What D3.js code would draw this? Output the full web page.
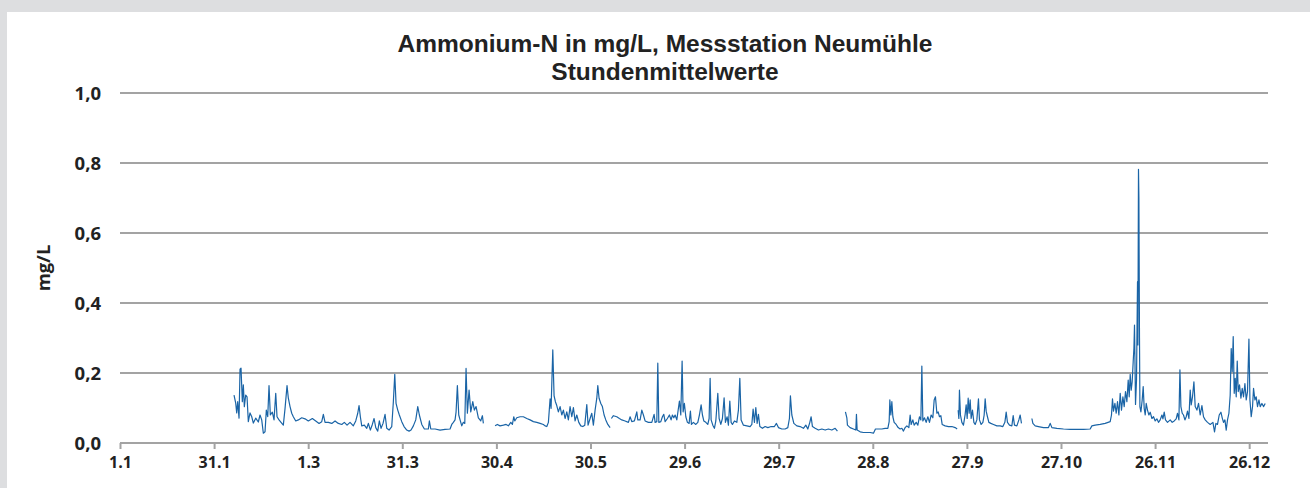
<!DOCTYPE html>
<html>
<head>
<meta charset="utf-8">
<script src="https://cdn.jsdelivr.net/npm/d3@7"></script>
<style>
  html, body { margin: 0; padding: 0; background: #dddee0; }
  svg { display: block; }
</style>
</head>
<body>
<svg id="chart" width="1310" height="488"></svg>
<script>
// Ammonium-N, hourly means at Neumühle station (day of year in a leap year, mg/L).
// null marks a gap in the measurement record.
const dayOfYear = [
  36.35,36.89,37.21,37.53,37.95,38.27,38.58,39.00,39.32,39.64,40.08,40.50,40.91,41.45,42.00,42.51,43.27,44.10,44.64,45.18,
  45.70,46.24,46.65,47.10,47.51,47.93,48.56,49.11,49.65,50.06,50.70,51.34,52.07,52.62,53.25,53.67,54.21,54.75,55.26,56.03,
  56.86,57.94,58.99,60.04,61.32,62.40,63.46,64.32,64.83,65.37,66.42,67.51,68.56,69.61,70.70,71.52,72.39,73.34,74.39,75.16,
  75.80,76.21,76.63,77.07,77.90,78.67,79.18,79.82,80.45,81.00,81.54,82.17,82.68,83.23,83.86,84.50,85.04,85.78,86.64,87.15,
  87.60,88.01,88.55,89.06,89.83,90.56,91.42,92.16,92.79,93.53,94.29,94.93,95.44,96.21,97.04,97.26,98.31,98.63,99.08,100.45,
  102.04,103.64,105.23,105.77,106.28,106.82,107.14,107.56,108.00,108.42,108.96,109.47,109.92,110.33,110.75,111.29,111.83,112.47,112.98,113.52,
  114.25,115.02,115.53,115.85,
  117.7,
  119.58,120.31,121.17,122.23,123.09,123.82,124.59,125.10,125.54,125.86,126.50,127.55,128.60,129.69,130.74,131.79,132.88,133.93,134.98,135.52,
  136.07,136.58,137.12,137.44,137.98,138.39,138.81,139.25,139.76,140.31,140.85,141.36,141.90,142.44,142.95,143.49,144.04,144.55,145.09,145.63,
  146.27,146.91,147.55,148.18,148.82,149.23,149.87,150.41,150.92,151.47,152.01,152.33,152.74,153.29,153.79,154.34,154.88,155.52,156.25,
  156.45,
  156.66,157.30,158.38,159.22,159.98,161.03,162.09,162.63,163.17,164.00,164.76,165.08,165.82,166.36,166.87,167.41,168.46,169.55,170.28,170.60,
  171.14,171.46,171.78,172.42,172.93,173.37,173.79,174.52,175.16,175.70,176.12,176.56,176.98,177.52,178.35,178.79,179.21,179.53,179.94,180.39,
  180.90,181.44,181.86,182.18,182.81,183.58,184.22,184.73,185.27,185.69,186.13,186.77,187.40,187.82,188.14,188.46,189.00,189.51,189.96,190.59,
  191.01,191.55,192.06,192.60,193.02,193.56,193.97,194.42,194.83,195.25,195.89,196.65,197.16,197.61,198.02,198.76,199.84,200.89,201.44,201.85,
  202.26,202.71,203.13,203.54,203.99,204.82,205.68,206.54,207.59,208.64,209.28,209.92,211.00,212.05,212.91,213.42,213.74,214.19,214.83,215.78,
  216.84,217.89,218.65,219.29,219.93,220.34,220.76,221.62,222.67,223.76,224.81,225.86,226.95,228.00,228.73,
  230.0,
  231.28,231.73,231.92,232.78,233.83,234.60,234.79,235.01,235.97,237.02,238.10,239.16,240.21,240.85,241.80,242.89,243.94,244.80,245.22,245.44,
  245.76,246.08,246.40,246.81,247.45,248.09,248.72,249.27,249.78,250.32,250.86,251.50,251.91,252.23,252.77,253.19,253.83,254.37,254.88,255.33,
  255.64,255.96,256.47,257.02,257.56,258.07,258.61,259.15,259.57,259.98,260.43,260.84,261.26,261.70,262.12,263.07,264.13,265.21,266.26,266.90,
  267.06,
  267.22,267.44,267.63,267.95,268.40,268.91,269.45,269.77,270.09,270.41,270.73,271.05,271.36,271.78,272.23,272.64,273.18,273.69,274.01,274.55,
  275.10,275.51,275.83,276.15,276.56,277.01,277.65,278.48,279.56,280.61,281.47,282.11,282.53,282.94,283.58,284.34,284.76,285.17,285.94,286.57,
  286.99,287.40,
  289.0,
  290.72,291.04,291.77,292.82,294.42,296.01,296.56,297.10,298.69,300.80,302.93,305.07,307.18,309.31,309.85,310.91,312.50,314.09,315.69,316.10,
  316.42,316.74,317.19,317.60,318.02,318.46,318.88,319.29,319.74,320.15,320.57,321.01,321.43,321.75,322.07,322.39,322.70,323.02,323.25,323.44,
  323.76,324.08,324.40,324.52,324.71,324.84,325.03,325.16,325.48,325.89,326.21,326.53,326.85,327.17,327.58,328.03,328.44,328.99,329.50,330.04,
  330.58,331.09,331.63,332.18,332.50,332.91,333.32,333.96,334.82,335.46,336.10,336.73,337.15,337.60,337.92,338.23,338.65,339.06,339.51,339.92,
  340.34,340.78,341.20,341.52,341.93,342.38,342.79,343.34,343.85,344.39,344.93,345.44,345.98,346.72,347.58,348.44,348.95,349.39,349.90,350.45,
  350.99,351.40,351.82,352.26,352.68,353.09,353.54,353.95,354.27,354.59,354.91,355.23,355.55,355.87,356.19,356.51,356.92,357.37,357.78,358.20,
  358.64,359.06,359.47,359.92,360.24,360.65,361.07,361.39,361.83,362.24,362.66,363.11,363.52,364.06,364.57,365.11
];

const ammoniumN = [
  0.137,0.114,0.086,0.118,0.071,0.211,0.214,0.118,0.166,0.104,0.137,0.132,0.061,0.086,0.075,0.057,0.071,0.060,0.080,0.066,
  0.028,0.032,0.094,0.075,0.164,0.080,0.088,0.066,0.142,0.075,0.066,0.059,0.051,0.099,0.164,0.128,0.104,0.085,0.075,0.063,
  0.066,0.072,0.069,0.063,0.070,0.063,0.056,0.061,0.082,0.059,0.059,0.056,0.063,0.056,0.053,0.059,0.051,0.059,0.049,0.063,
  0.085,0.107,0.075,0.049,0.051,0.042,0.056,0.037,0.053,0.070,0.044,0.034,0.063,0.042,0.056,0.082,0.042,0.037,0.047,0.118,
  0.196,0.113,0.094,0.080,0.061,0.047,0.037,0.034,0.037,0.049,0.066,0.104,0.080,0.053,0.040,0.040,0.040,0.063,0.040,0.040,
  0.037,0.039,0.040,0.053,0.059,0.066,0.088,0.164,0.080,0.066,0.049,0.059,0.056,0.213,0.085,0.151,0.089,0.118,0.094,0.104,
  0.072,0.063,0.078,0.056,
  null,
  0.049,0.053,0.049,0.051,0.053,0.049,0.059,0.053,0.075,0.063,0.072,0.075,0.075,0.070,0.066,0.061,0.059,0.056,0.053,0.049,
  0.047,0.059,0.126,0.099,0.266,0.135,0.118,0.107,0.089,0.104,0.080,0.094,0.070,0.089,0.066,0.104,0.075,0.101,0.063,0.080,
  0.059,0.049,0.047,0.051,0.110,0.051,0.070,0.085,0.051,0.094,0.128,0.164,0.128,0.113,0.104,0.080,0.066,0.053,0.044,
  null,
  0.070,0.078,0.075,0.070,0.066,0.063,0.059,0.075,0.061,0.063,0.089,0.066,0.066,0.094,0.080,0.063,0.059,0.059,0.082,0.059,
  0.061,0.228,0.059,0.061,0.075,0.082,0.061,0.070,0.080,0.066,0.080,0.072,0.080,0.066,0.120,0.080,0.234,0.089,0.113,0.075,
  0.059,0.056,0.091,0.053,0.059,0.053,0.059,0.080,0.109,0.080,0.063,0.059,0.053,0.070,0.185,0.066,0.051,0.042,0.063,0.142,
  0.070,0.053,0.070,0.129,0.059,0.075,0.051,0.120,0.059,0.053,0.063,0.059,0.094,0.185,0.066,0.051,0.049,0.047,0.053,0.097,
  0.059,0.101,0.056,0.082,0.047,0.042,0.047,0.044,0.047,0.047,0.056,0.044,0.040,0.040,0.044,0.070,0.135,0.080,0.056,0.049,
  0.047,0.042,0.051,0.040,0.059,0.075,0.047,0.042,0.037,0.040,0.037,0.040,0.037,0.042,0.034,
  null,
  0.089,0.072,0.051,0.044,0.040,0.037,0.082,0.037,0.032,0.030,0.030,0.030,0.028,0.040,0.040,0.040,0.042,0.042,0.061,0.123,
  0.080,0.118,0.075,0.059,0.053,0.044,0.040,0.042,0.034,0.044,0.049,0.044,0.080,0.053,0.066,0.051,0.059,0.051,0.075,0.066,
  0.220,0.063,0.072,0.059,0.075,0.059,0.080,0.072,0.123,0.132,0.085,0.089,0.075,0.078,0.053,0.049,0.047,0.047,0.044,0.040,
  null,
  0.094,0.070,0.151,0.080,0.059,0.051,0.082,0.109,0.070,0.128,0.085,0.123,0.070,0.094,0.059,0.053,0.066,0.126,0.066,0.053,
  0.059,0.080,0.126,0.091,0.075,0.059,0.056,0.053,0.049,0.049,0.047,0.059,0.088,0.059,0.051,0.049,0.078,0.051,0.049,0.066,
  0.080,0.056,
  null,
  0.070,0.056,0.049,0.047,0.044,0.044,0.056,0.044,0.042,0.040,0.039,0.039,0.039,0.040,0.049,0.051,0.053,0.056,0.061,0.080,
  0.126,0.091,0.113,0.085,0.118,0.080,0.142,0.094,0.132,0.104,0.147,0.118,0.180,0.132,0.196,0.151,0.175,0.232,0.270,0.337,
  0.110,0.180,0.461,0.280,0.782,0.700,0.300,0.104,0.089,0.123,0.161,0.099,0.080,0.113,0.094,0.080,0.088,0.070,0.075,0.063,
  0.069,0.059,0.066,0.080,0.069,0.088,0.066,0.059,0.066,0.059,0.063,0.069,0.085,0.066,0.209,0.104,0.085,0.080,0.066,0.075,
  0.091,0.070,0.151,0.109,0.132,0.175,0.104,0.094,0.113,0.080,0.107,0.075,0.066,0.059,0.053,0.059,0.032,0.056,0.053,0.080,
  0.088,0.072,0.059,0.066,0.037,0.066,0.085,0.137,0.270,0.204,0.304,0.142,0.185,0.132,0.234,0.147,0.166,0.128,0.156,0.132,
  0.170,0.123,0.147,0.297,0.123,0.075,0.104,0.156,0.123,0.132,0.104,0.123,0.104,0.113,0.104,0.113
];

// Axis ticks: every 30 days from 1 January, labelled as day.month
const tickDays = [0, 30, 60, 90, 120, 150, 180, 210, 240, 270, 300, 330, 360];
const tickLabels = ["1.1", "31.1", "1.3", "31.3", "30.4", "30.5", "29.6", "29.7", "28.8", "27.9", "27.10", "26.11", "26.12"];
const yTicks = [0, 0.2, 0.4, 0.6, 0.8, 1.0];

const titleLines = ["Ammonium-N in mg/L, Messstation Neumühle", "Stundenmittelwerte"];
const yTitle = "mg/L";

const svg = d3.select("#chart");
const W = 1310, H = 488;
const font = "'Open Sans', 'Noto Sans', sans-serif";
const titleFont = "'Liberation Sans', Arial, sans-serif";

// white panel on grey page
svg.append("rect").attr("x", 0).attr("y", 0).attr("width", W).attr("height", H).attr("fill", "#dddee0");
svg.append("rect").attr("x", 7).attr("y", 12).attr("width", W - 7).attr("height", H - 12).attr("fill", "#ffffff");

const x = d3.scaleLinear().domain([0, 366]).range([120, 1268]);
const y = d3.scaleLinear().domain([0, 1]).range([443, 93]);

const deComma = d3.formatLocale({ decimal: ",", thousands: ".", grouping: [3], currency: ["", " €"] }).format(".1f");

// horizontal gridlines (the 0,0 line doubles as the x axis)
svg.append("g")
  .selectAll("line")
  .data(yTicks)
  .join("line")
  .attr("x1", x.range()[0]).attr("x2", x.range()[1])
  .attr("y1", d => y(d)).attr("y2", d => y(d))
  .attr("stroke", "#a3a3a3").attr("stroke-width", 2);

// y tick labels
svg.append("g")
  .selectAll("text")
  .data(yTicks)
  .join("text")
  .attr("x", 101).attr("y", d => y(d))
  .attr("dy", "0.36em")
  .attr("text-anchor", "end")
  .attr("font-family", font).attr("font-weight", 700).attr("font-size", 18.5)
  .attr("fill", "#222")
  .text(d => deComma(d));

// x axis ticks and labels
const xAxis = d3.axisBottom(x)
  .tickValues(tickDays)
  .tickFormat((d, i) => tickLabels[i])
  .tickSize(6)
  .tickPadding(8);
const gx = svg.append("g").attr("transform", `translate(0,${y(0)})`).call(xAxis);
gx.select(".domain").remove();
gx.selectAll(".tick line").attr("stroke", "#a3a3a3").attr("stroke-width", 2);
gx.selectAll(".tick text")
  .attr("font-family", font).attr("font-weight", 700).attr("font-size", 16)
  .attr("fill", "#222");

// measured series
const line = d3.line()
  .defined((d, i) => ammoniumN[i] !== null)
  .x(d => x(d))
  .y((d, i) => y(ammoniumN[i]));

svg.append("path")
  .datum(dayOfYear)
  .attr("d", line)
  .attr("fill", "none")
  .attr("stroke", "#1a64a6")
  .attr("stroke-width", 1.2)
  .attr("stroke-linejoin", "round");

// two-line title
svg.append("g")
  .selectAll("text")
  .data(titleLines)
  .join("text")
  .attr("x", 665)
  .attr("y", (d, i) => 52 + i * 28)
  .attr("text-anchor", "middle")
  .attr("font-family", titleFont).attr("font-weight", 700).attr("font-size", 24.5)
  .attr("fill", "#222")
  .text(d => d);

// y axis title
svg.append("text")
  .attr("transform", "translate(50,268) rotate(-90)")
  .attr("text-anchor", "middle")
  .attr("font-family", font).attr("font-weight", 700).attr("font-size", 18.5)
  .attr("fill", "#222")
  .text(yTitle);
</script>
</body>
</html>
